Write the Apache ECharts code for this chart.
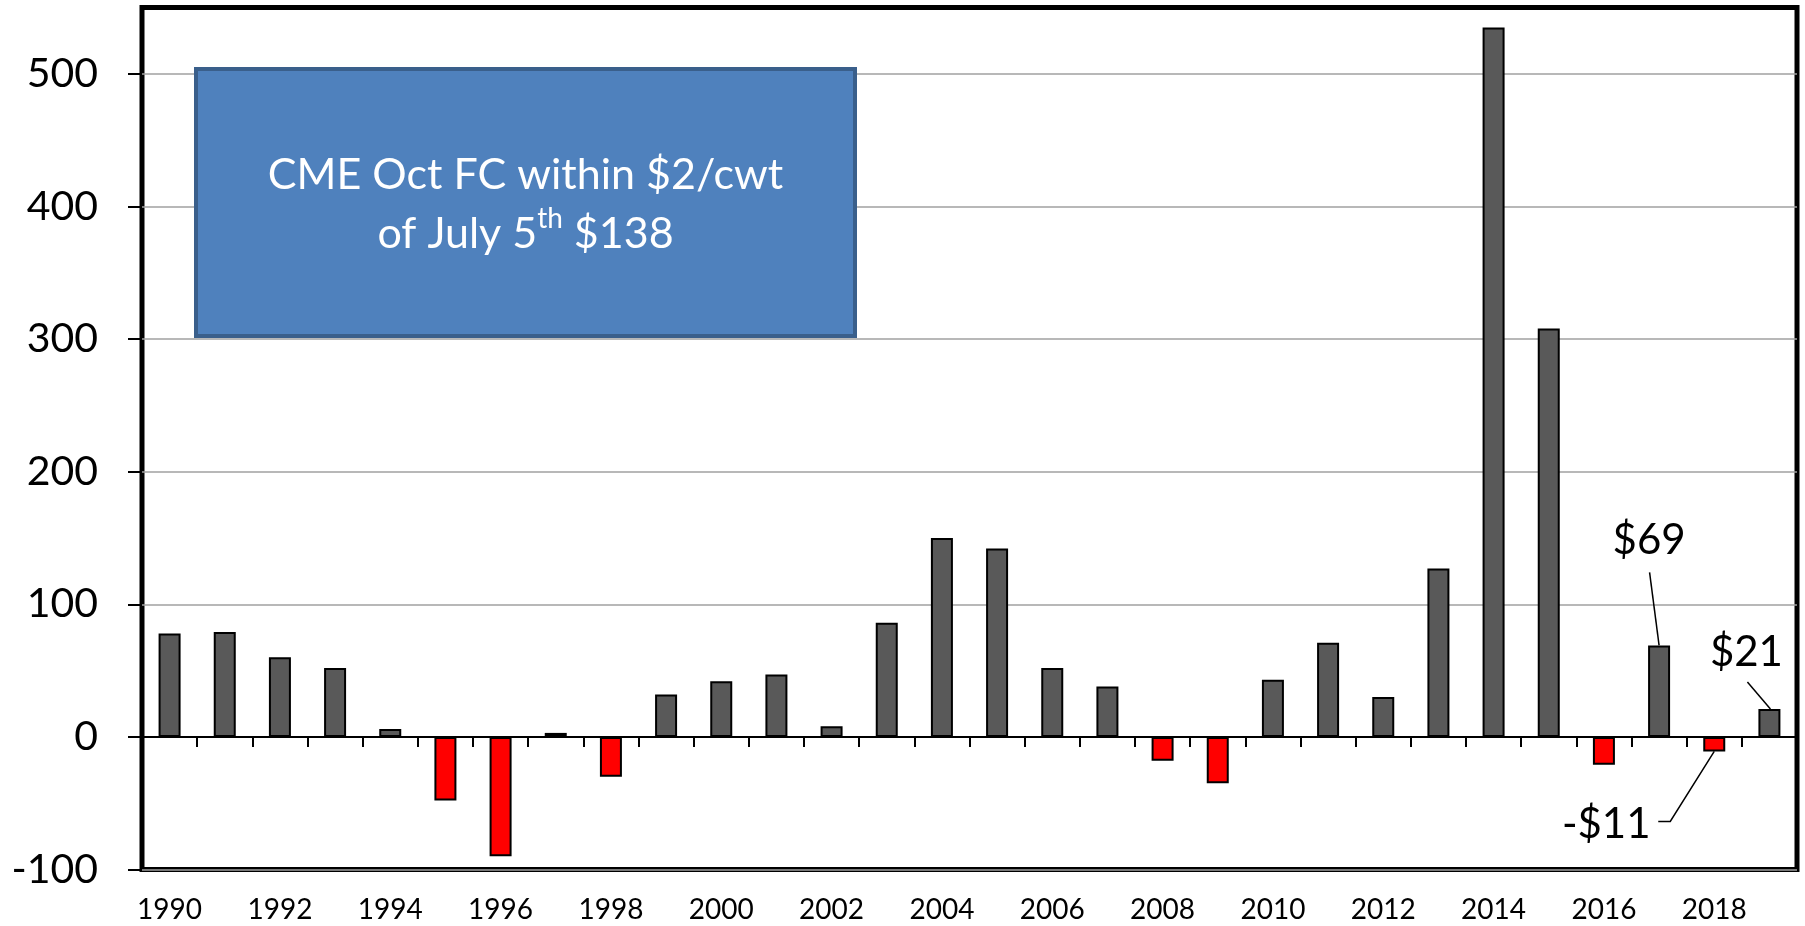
<!DOCTYPE html>
<html><head><meta charset="utf-8">
<script src="https://cdn.jsdelivr.net/npm/echarts@6/dist/echarts.min.js"></script>
<style>html,body{margin:0;padding:0;background:#fff}#c{width:1805px;height:926px}</style>
</head><body><div id="c"></div>
<script>
const years = ['1990','1991','1992','1993','1994','1995','1996','1997','1998','1999',
               '2000','2001','2002','2003','2004','2005','2006','2007','2008','2009',
               '2010','2011','2012','2013','2014','2015','2016','2017','2018','2019'];
const values = [78, 79, 60, 52, 6, -48, -90, 3, -30, 32,
                42, 47, 8, 86, 150, 142, 52, 38, -18, -35,
                43, 71, 30, 127, 535, 308, -21, 69, -11, 21];
const yTicks = [-100, 0, 100, 200, 300, 400, 500];
const boxLine1 = 'CME Oct FC within $2/cwt';
const boxLine2 = ['of July 5', 'th', ' $138'];
const calloutYears = ['2017', '2019', '2018'];
const calloutTexts = ['$69', '$21', '-$11'];

const FONT = 'Lato';
const chart = echarts.init(document.getElementById('c'), null, {renderer: 'canvas'});

const option = {
  animation: false,
  backgroundColor: '#fff',
  textStyle: {fontFamily: FONT},
  grid: {left: 142, right: 8, top: 7.5, bottom: 56.5, show: true, borderColor: '#000', borderWidth: 5,
         backgroundColor: 'transparent', containLabel: false, outerBoundsMode: 'none'},
  xAxis: [
    {type: 'category', data: years, position: 'bottom',
     axisLine: {show: false, onZero: false}, axisTick: {show: false},
     axisLabel: {interval: 1, fontSize: 28, color: '#000', margin: 26, fontFamily: FONT},
     splitLine: {show: false}},
    {type: 'category', data: years, position: 'bottom',
     axisLine: {show: true, onZero: true, lineStyle: {color: '#000', width: 2}},
     axisTick: {show: true, interval: 0, length: 10, lineStyle: {color: '#000', width: 2}},
     axisLabel: {show: false}, splitLine: {show: false}}
  ],
  yAxis: {
    type: 'value', min: -100, max: 550, interval: 100,
    axisLine: {show: false},
    axisTick: {show: true, length: 14, lineStyle: {color: '#000', width: 2}, customValues: yTicks},
    axisLabel: {fontSize: 41, color: '#000', margin: 44, fontFamily: FONT, customValues: yTicks},
    splitLine: {show: true, lineStyle: {color: '#A0A0A0', width: 1.5}}
  },
  series: [{
    type: 'bar', xAxisIndex: 0, yAxisIndex: 0, data: values, barWidth: 22,
    itemStyle: {
      color: p => (p.value < 0 ? '#FF0000' : '#595959'),
      borderColor: '#000', borderWidth: 2
    }
  }]
};
chart.setOption(option);

// annotation offsets relative to each bar's end (style/layout, not data)
const calloutLayout = [
  {text: [-10, -105], line: [[-9.5, -73], [0, 0]]},
  {text: [-23, -57], line: [[-22, -27], [1, 0]]},
  {text: [-108, 73], line: [[-56, 70], [-44, 70], [0, 0]]}
];

function buildGraphics() {
  const g = [];
  g.push({
    type: 'rect', shape: {x: 196, y: 69, width: 659, height: 267}, z: 10,
    style: {fill: '#4F81BD', stroke: '#3A5F8B', lineWidth: 4}
  });
  g.push({
    type: 'text', x: 525.5, y: 205, z: 11,
    style: {
      text: '{a|' + boxLine1 + '}\n{a|' + boxLine2[0] + '}{s|' + boxLine2[1] + '}{a|' + boxLine2[2] + '}',
      align: 'center', verticalAlign: 'middle',
      rich: {
        a: {fontFamily: FONT, fontSize: 43, lineHeight: 59, fill: '#fff', color: '#fff'},
        s: {fontFamily: FONT, fontSize: 28, lineHeight: 27, verticalAlign: 'top', fill: '#fff', color: '#fff'}
      }
    }
  });
  calloutYears.forEach((yr, i) => {
    const idx = years.indexOf(yr);
    const p = chart.convertToPixel({seriesIndex: 0}, [idx, values[idx]]);
    const L = calloutLayout[i];
    g.push({
      type: 'polyline', z: 10,
      shape: {points: L.line.map(d => [p[0] + d[0], p[1] + d[1]])},
      style: {stroke: '#000', lineWidth: 1.5, fill: null}
    });
    g.push({
      type: 'text', z: 10, x: p[0] + L.text[0], y: p[1] + L.text[1],
      style: {text: calloutTexts[i], fontFamily: FONT, fontSize: 42, fill: '#000',
              align: 'center', verticalAlign: 'middle'}
    });
  });
  return g;
}
chart.setOption({graphic: buildGraphics()});
</script>
</body></html>
